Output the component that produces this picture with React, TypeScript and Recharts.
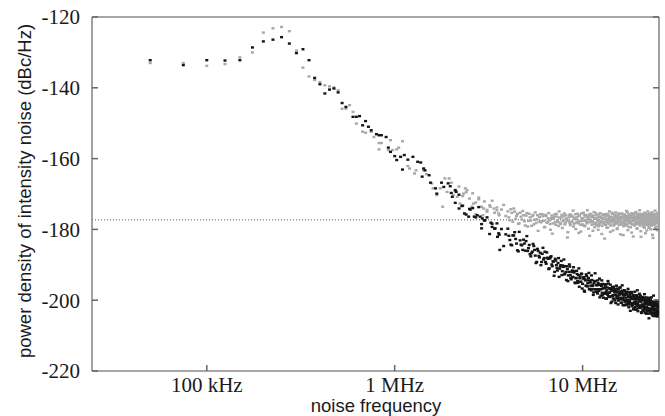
import React from 'react';
import { ScatterChart, Scatter, XAxis, YAxis, ReferenceLine } from 'recharts';

// low range, 25 kHz grid (kHz)
const lowKHz = [50, 75, 100, 125, 150, 175, 200, 225, 250, 275, 300, 325, 350, 375, 400, 425, 450, 475, 500];
const lowBlack = [-132.2, -133.6, -132.2, -132.3, -132.2, -128.6, -126.9, -126.4, -125.7, -127.5, -130.2, -129.1, -132.2, -137.2, -139.0, -141.6, -140.5, -140.2, -141.3];
const lowGray = [-133.0, -133.0, -133.8, -133.3, -131.4, -130.0, -124.4, -123.2, -122.8, -124.0, -129.5, -134.3, -136.8, -137.8, -138.4, -139.3, -139.6, -139.9, -140.7];

// 0.5 - 3.6 MHz, [kHz, dB]
const midBlack: [number, number][] = [
  [525, -144.3], [550, -145.4], [600, -148.2], [625, -148.2], [650, -148.0], [675, -150.6], [700, -149.4],
  [725, -151.0], [750, -152.0], [800, -153.1], [825, -153.4], [850, -153.4], [900, -153.9], [925, -156.9],
  [950, -158.1], [1000, -159.3], [1025, -160.4], [1075, -159.5], [1100, -163.1], [1125, -159.0], [1175, -160.3],
  [1250, -159.5], [1325, -160.9], [1375, -161.1], [1400, -165.1], [1425, -162.8], [1450, -163.3], [1525, -164.7],
  [1550, -166.8], [1650, -168.4], [1675, -169.9], [1775, -166.8], [1825, -168.0], [1925, -167.0], [1975, -167.8],
  [2025, -170.8], [2100, -168.9], [2125, -169.4], [2200, -174.1], [2275, -173.4], [2350, -175.5], [2475, -176.4],
  [2525, -174.4], [2650, -176.4], [2750, -176.0], [2850, -176.4], [2900, -179.7], [2925, -176.9], [3025, -177.4],
  [3250, -178.1], [3300, -179.3], [3425, -179.7], [3525, -182.1], [3575, -181.1], [3625, -185.8],
];
const midGray: [number, number][] = [
  [525, -145.9], [550, -145.9], [575, -144.9], [600, -146.8], [625, -150.1], [675, -152.4], [700, -152.7],
  [750, -152.4], [775, -153.9], [825, -155.6], [825, -157.4], [850, -155.6], [925, -157.6], [950, -154.8],
  [975, -157.6], [1025, -157.4], [1050, -156.9], [1100, -155.1], [1175, -162.1], [1200, -162.8], [1275, -164.2],
  [1300, -163.3], [1425, -163.3], [1475, -164.4], [1575, -167.0], [1600, -168.4], [1675, -170.3], [1750, -168.4],
  [1800, -173.6], [1850, -165.6], [1900, -169.4], [1950, -165.6], [2050, -170.3], [2150, -170.8], [2225, -172.7],
  [2325, -169.9], [2375, -168.4], [2425, -168.9], [2575, -173.6], [2625, -172.7], [2700, -175.7], [2800, -171.5],
  [2950, -176.0], [2975, -174.1], [3100, -175.0], [3225, -173.6], [3375, -174.1], [3500, -174.6], [3575, -175.5],
];

// 2 - 25.4 MHz (MHz)
const highMHz = [
  2.0, 2.1, 2.2, 2.3, 2.4, 2.5, 2.6, 2.7, 2.8, 2.9, 3.0, 3.1, 3.2, 3.3, 3.4, 3.5, 3.6, 3.7, 3.8, 3.9,
  4.0, 4.1, 4.2, 4.3, 4.4, 4.5, 4.6, 4.7, 4.8, 4.9, 5.0, 5.1, 5.2, 5.3, 5.4, 5.5, 5.6, 5.7, 5.8, 5.9,
  6.0, 6.1, 6.2, 6.3, 6.4, 6.5, 6.6, 6.7, 6.8, 6.9, 7.0, 7.1, 7.2, 7.3, 7.4, 7.5, 7.6, 7.7, 7.8, 7.9,
  8.0, 8.1, 8.2, 8.3, 8.4, 8.5, 8.6, 8.7, 8.8, 8.9, 9.0, 9.1, 9.2, 9.3, 9.4, 9.5, 9.6, 9.7, 9.8, 9.9,
  10.0, 10.1, 10.2, 10.3, 10.4, 10.5, 10.6, 10.7, 10.8, 10.9, 11.0, 11.1, 11.2, 11.3, 11.4, 11.5, 11.6, 11.7, 11.8, 11.9,
  12.0, 12.1, 12.2, 12.3, 12.4, 12.5, 12.6, 12.7, 12.8, 12.9, 13.0, 13.1, 13.2, 13.3, 13.4, 13.5, 13.6, 13.7, 13.8, 13.9,
  14.0, 14.1, 14.2, 14.3, 14.4, 14.5, 14.6, 14.7, 14.8, 14.9, 15.0, 15.1, 15.2, 15.3, 15.4, 15.5, 15.6, 15.7, 15.8, 15.9,
  16.0, 16.1, 16.2, 16.3, 16.4, 16.5, 16.6, 16.7, 16.8, 16.9, 17.0, 17.1, 17.2, 17.3, 17.4, 17.5, 17.6, 17.7, 17.8, 17.9,
  18.0, 18.1, 18.2, 18.3, 18.4, 18.5, 18.6, 18.7, 18.8, 18.9, 19.0, 19.1, 19.2, 19.3, 19.4, 19.5, 19.6, 19.7, 19.8, 19.9,
  20.0, 20.1, 20.2, 20.3, 20.4, 20.5, 20.6, 20.7, 20.8, 20.9, 21.0, 21.1, 21.2, 21.3, 21.4, 21.5, 21.6, 21.7, 21.8, 21.9,
  22.0, 22.1, 22.2, 22.3, 22.4, 22.5, 22.6, 22.7, 22.8, 22.9, 23.0, 23.1, 23.2, 23.3, 23.4, 23.5, 23.6, 23.7, 23.8, 23.9,
  24.0, 24.1, 24.2, 24.3, 24.4, 24.5, 24.6, 24.7, 24.8, 24.9, 25.0, 25.1, 25.2, 25.3, 25.4,
];
const highBlack = [
  -169.7, -172.5, -170.2, -173.3, -175.8, -174.2, -174.0, -176.6, -173.7, -178.5, -177.5, -176.6, -181.3, -178.4, -179.8, -178.3, -181.5, -179.9, -184.7, -181.4,
  -179.8, -183.0, -184.5, -181.7, -182.7, -185.9, -180.7, -184.3, -185.8, -184.0, -183.3, -186.1, -184.4, -187.6, -186.3, -184.7, -187.4, -189.2, -186.1, -187.9,
  -190.1, -186.9, -188.5, -186.3, -189.7, -188.0, -191.2, -188.2, -187.6, -190.4, -189.1, -192.0, -188.8, -190.9, -189.5, -193.4, -190.5, -188.9, -191.8, -190.6,
  -192.7, -190.4, -194.3, -191.2, -193.0, -189.9, -192.9, -194.1, -191.6, -193.5, -192.2, -195.0, -193.8, -191.7, -194.6, -192.9, -196.2, -193.3, -194.8, -192.6,
  -195.4, -193.6, -197.3, -194.1, -195.9, -193.2, -196.1, -194.4, -192.3, -196.8, -195.0, -197.2, -194.3, -196.0, -198.5, -195.1, -196.9, -194.6, -197.6, -195.8,
  -198.1, -195.2, -197.4, -193.9, -196.9, -198.7, -196.0, -197.9, -195.4, -199.3, -196.6, -198.2, -195.9, -197.7, -199.6, -196.4, -198.5, -195.3, -197.9, -199.1,
  -196.8, -198.9, -197.2, -200.4, -196.3, -198.6, -197.1, -199.7, -196.9, -198.4, -200.8, -197.5, -199.2, -196.7, -198.9, -200.1, -197.8, -199.6, -196.4, -198.3,
  -200.7, -197.9, -199.8, -197.3, -201.4, -198.6, -199.9, -197.2, -200.3, -198.4, -201.2, -198.0, -199.9, -197.6, -200.8, -199.1, -202.0, -198.7, -200.5, -198.2,
  -201.1, -199.4, -197.9, -201.7, -199.6, -200.9, -198.5, -202.3, -199.7, -201.0, -198.8, -200.6, -202.7, -199.3, -201.5, -198.9, -200.9, -203.1, -199.8, -201.6,
  -199.2, -202.2, -200.1, -198.7, -201.9, -200.4, -203.4, -199.6, -201.3, -202.8, -200.0, -201.8, -199.4, -202.5, -200.7, -203.6, -200.2, -202.0, -199.8, -201.9,
  -203.2, -200.5, -202.6, -200.1, -203.8, -201.2, -199.9, -202.9, -200.8, -203.3, -201.0, -202.4, -200.3, -203.7, -201.5, -202.8, -200.6, -204.4, -201.3, -202.9,
  -200.9, -203.5, -201.7, -204.2, -200.8, -202.6, -203.9, -201.4, -203.0, -201.1, -204.6, -202.2, -203.4, -201.6, -204.0,
];
const highGray = [
  -166.8, -169.2, -167.9, -170.6, -169.5, -171.3, -169.8, -172.4, -171.0, -173.6, -172.1, -174.5, -173.2, -171.9, -175.3, -173.8, -176.0, -174.4, -173.1, -176.2,
  -174.9, -177.4, -175.3, -174.1, -177.0, -175.6, -178.3, -176.4, -174.8, -177.7, -176.1, -179.2, -175.6, -177.5, -176.3, -178.6, -175.2, -177.1, -180.4, -176.5,
  -178.0, -175.7, -177.6, -179.3, -176.2, -177.9, -175.4, -178.5, -176.8, -181.2, -177.0, -175.8, -178.7, -176.4, -177.9, -174.9, -178.2, -176.6, -179.6, -177.3,
  -175.5, -178.1, -176.9, -182.3, -177.6, -175.9, -178.8, -176.3, -177.8, -174.7, -178.4, -176.7, -179.9, -177.2, -175.6, -178.3, -176.1, -177.7, -180.6, -176.9,
  -178.6, -175.3, -177.5, -179.1, -176.4, -178.0, -174.6, -177.9, -176.2, -181.8, -177.4, -175.8, -178.7, -176.6, -177.9, -175.1, -179.4, -176.9, -178.2, -176.0,
  -177.6, -180.1, -176.5, -178.5, -175.4, -177.8, -176.7, -179.0, -175.9, -178.3, -177.1, -182.6, -176.4, -178.0, -175.7, -177.7, -179.5, -176.2, -178.4, -174.9,
  -177.3, -178.9, -176.6, -177.9, -175.6, -180.3, -177.0, -178.6, -176.3, -177.8, -175.2, -178.2, -176.8, -179.7, -177.4, -175.9, -178.8, -176.5, -177.6, -181.4,
  -176.7, -178.3, -175.5, -177.9, -176.4, -179.1, -177.2, -175.8, -178.5, -176.9, -177.7, -174.8, -178.9, -176.3, -180.2, -177.5, -175.9, -178.1, -176.6, -177.8,
  -179.4, -176.1, -178.4, -175.4, -177.6, -176.8, -182.0, -177.3, -175.7, -178.7, -176.5, -177.9, -175.1, -178.6, -176.9, -179.8, -177.1, -175.6, -178.2, -176.4,
  -177.7, -174.6, -178.9, -176.7, -180.5, -177.4, -175.8, -178.3, -176.2, -177.9, -179.2, -176.0, -178.5, -175.3, -177.6, -176.8, -181.1, -177.2, -175.7, -178.8,
  -176.6, -177.8, -174.9, -178.4, -176.3, -179.6, -177.0, -175.5, -178.1, -176.7, -177.5, -180.0, -176.1, -178.6, -175.2, -177.7, -176.9, -182.4, -177.3, -175.9,
  -178.7, -176.4, -177.9, -174.7, -178.2, -176.8, -179.3, -177.1, -175.6, -178.0, -176.5, -177.8, -175.3, -179.0, -176.6,
];

// interleaved readings, 4.05 - 25.35 MHz
const highMHzB = [
  4.05, 4.15, 4.25, 4.35, 4.45, 4.55, 4.65, 4.75, 4.85, 4.95, 5.05, 5.15, 5.25, 5.35, 5.45, 5.55, 5.65, 5.75, 5.85, 5.95,
  6.05, 6.15, 6.25, 6.35, 6.45, 6.55, 6.65, 6.75, 6.85, 6.95, 7.05, 7.15, 7.25, 7.35, 7.45, 7.55, 7.65, 7.75, 7.85, 7.95,
  8.05, 8.15, 8.25, 8.35, 8.45, 8.55, 8.65, 8.75, 8.85, 8.95, 9.05, 9.15, 9.25, 9.35, 9.45, 9.55, 9.65, 9.75, 9.85, 9.95,
  10.05, 10.15, 10.25, 10.35, 10.45, 10.55, 10.65, 10.75, 10.85, 10.95, 11.05, 11.15, 11.25, 11.35, 11.45, 11.55, 11.65, 11.75, 11.85, 11.95,
  12.05, 12.15, 12.25, 12.35, 12.45, 12.55, 12.65, 12.75, 12.85, 12.95, 13.05, 13.15, 13.25, 13.35, 13.45, 13.55, 13.65, 13.75, 13.85, 13.95,
  14.05, 14.15, 14.25, 14.35, 14.45, 14.55, 14.65, 14.75, 14.85, 14.95, 15.05, 15.15, 15.25, 15.35, 15.45, 15.55, 15.65, 15.75, 15.85, 15.95,
  16.05, 16.15, 16.25, 16.35, 16.45, 16.55, 16.65, 16.75, 16.85, 16.95, 17.05, 17.15, 17.25, 17.35, 17.45, 17.55, 17.65, 17.75, 17.85, 17.95,
  18.05, 18.15, 18.25, 18.35, 18.45, 18.55, 18.65, 18.75, 18.85, 18.95, 19.05, 19.15, 19.25, 19.35, 19.45, 19.55, 19.65, 19.75, 19.85, 19.95,
  20.05, 20.15, 20.25, 20.35, 20.45, 20.55, 20.65, 20.75, 20.85, 20.95, 21.05, 21.15, 21.25, 21.35, 21.45, 21.55, 21.65, 21.75, 21.85, 21.95,
  22.05, 22.15, 22.25, 22.35, 22.45, 22.55, 22.65, 22.75, 22.85, 22.95, 23.05, 23.15, 23.25, 23.35, 23.45, 23.55, 23.65, 23.75, 23.85, 23.95,
  24.05, 24.15, 24.25, 24.35, 24.45, 24.55, 24.65, 24.75, 24.85, 24.95, 25.05, 25.15, 25.25, 25.35,
];
const highBlackB = [
  -181.8, -184.3, -181.7, -180.8, -184.0, -186.2, -183.1, -184.5, -182.9, -186.0, -181.9, -185.3, -187.0, -186.7, -184.1, -185.8, -189.5, -185.5, -187.5, -186.6,
  -189.2, -185.2, -188.1, -189.2, -186.5, -188.3, -191.0, -187.8, -189.9, -189.0, -193.1, -188.3, -190.1, -191.6, -188.1, -191.1, -190.1, -192.9, -190.2, -188.5,
  -192.5, -192.0, -190.4, -194.6, -192.0, -190.5, -193.7, -192.0, -193.4, -190.7, -191.8, -195.2, -193.7, -192.6, -195.1, -191.0, -193.8, -194.8, -192.5, -196.7,
  -193.9, -193.5, -197.6, -194.4, -192.7, -196.0, -195.2, -193.7, -196.9, -194.5, -195.9, -193.0, -196.9, -195.7, -197.8, -194.6, -192.4, -196.9, -195.7, -197.6,
  -194.4, -196.9, -195.7, -199.2, -195.5, -196.9, -194.4, -198.6, -196.7, -195.5, -198.0, -196.5, -199.5, -195.5, -197.2, -198.0, -194.6, -199.0, -196.6, -197.8,
  -195.6, -200.8, -197.3, -196.5, -198.8, -199.5, -196.2, -197.7, -200.1, -197.2, -198.6, -195.9, -199.5, -197.8, -201.2, -197.0, -198.5, -199.7, -196.4, -199.3,
  -197.5, -200.7, -195.8, -199.4, -198.1, -201.4, -198.7, -197.5, -200.4, -199.3, -201.4, -198.4, -197.9, -200.2, -196.8, -201.2, -199.0, -199.9, -197.7, -203.0,
  -199.0, -200.8, -197.7, -199.7, -201.3, -198.8, -202.6, -199.2, -200.6, -197.6, -201.9, -199.8, -200.4, -198.6, -202.4, -197.2, -201.1, -199.4, -201.7, -200.4,
  -198.2, -201.5, -202.1, -200.1, -199.4, -203.6, -199.9, -201.2, -199.1, -202.0, -201.5, -199.4, -203.0, -198.3, -201.2, -202.4, -200.7, -199.2, -203.8, -201.0,
  -199.9, -203.0, -201.2, -202.2, -199.3, -205.1, -200.5, -201.2, -202.5, -199.8, -202.9, -200.9, -199.2, -204.0, -201.8, -200.6, -203.6, -202.3, -198.7, -202.8,
  -201.4, -204.5, -200.6, -202.4, -201.2, -203.6, -200.1, -204.3, -201.6, -201.1, -202.9, -200.4, -203.6, -201.6,
];
const highGrayB = [
  -176.6, -174.3, -177.8, -175.0, -176.2, -178.4, -175.3, -177.2, -176.0, -178.9, -175.4, -177.6, -176.6, -179.0, -175.9, -177.3, -178.2, -176.0, -177.8, -175.7,
  -177.7, -176.3, -179.4, -175.9, -178.1, -176.9, -177.5, -180.1, -176.1, -178.3, -176.5, -178.0, -175.6, -177.4, -179.0, -176.7, -178.5, -175.9, -177.7, -176.3,
  -178.6, -176.0, -177.5, -180.8, -176.6, -178.2, -175.8, -177.9, -176.4, -179.2, -177.0, -175.7, -178.1, -176.5, -177.9, -181.0, -176.2, -178.7, -175.5, -177.6,
  -176.8, -178.9, -176.0, -177.4, -175.9, -178.3, -176.7, -179.8, -177.1, -175.6, -178.0, -176.4, -177.7, -180.4, -176.1, -178.5, -177.0, -175.4, -178.8, -176.8,
  -177.3, -179.1, -175.8, -178.0, -176.5, -177.6, -181.3, -176.9, -178.2, -175.7, -177.9, -176.2, -178.7, -176.0, -179.5, -177.1, -175.6, -178.3, -176.8, -177.5,
  -180.7, -176.4, -178.0, -175.3, -177.6, -176.9, -178.9, -177.2, -175.8, -178.4, -176.6, -177.8, -179.9, -176.1, -178.1, -175.5, -177.4, -176.8, -178.6, -177.0,
  -175.6, -178.5, -176.4, -177.9, -181.6, -176.7, -178.2, -175.9, -177.5, -176.3, -178.8, -176.9, -177.6, -175.2, -178.3, -176.5, -179.3, -177.1, -175.8, -178.0,
  -176.4, -177.7, -180.9, -176.8, -178.6, -175.7, -177.4, -176.2, -178.9, -177.0, -175.4, -178.2, -176.6, -177.8, -179.7, -176.3, -178.0, -175.9, -177.6, -176.9,
  -178.5, -176.1, -177.9, -175.6, -182.1, -177.2, -178.4, -176.5, -177.7, -175.8, -177.0, -178.7, -176.3, -179.5, -177.5, -175.5, -178.1, -176.7, -177.8, -180.3,
  -176.2, -177.9, -175.7, -178.6, -176.8, -177.4, -179.2, -176.0, -178.3, -175.9, -177.6, -176.5, -178.9, -175.4, -177.9, -181.5, -176.7, -178.1, -176.2, -177.7,
  -175.8, -178.4, -176.9, -179.6, -177.2, -175.6, -178.0, -176.4, -177.8, -180.2, -176.6, -178.3, -175.9, -177.5,
];

const noiseFloor = -177.3;
const xTicks = [1e5, 1e6, 1e7];
const xTickLabels = ['100 kHz', '1 MHz', '10 MHz'];
const yTicks = [-220, -200, -180, -160, -140, -120];

const pair = (f: number[], v: number[], unit: number) => f.map((x, i) => ({ hz: x * unit, db: v[i] }));

const blackPts = [
  ...pair(lowKHz, lowBlack, 1e3),
  ...midBlack.map(([k, d]) => ({ hz: k * 1e3, db: d })),
  ...pair(highMHz, highBlack, 1e6),
  ...pair(highMHzB, highBlackB, 1e6),
];
const grayPts = [
  ...pair(lowKHz, lowGray, 1e3),
  ...midGray.map(([k, d]) => ({ hz: k * 1e3, db: d })),
  ...pair(highMHz, highGray, 1e6),
  ...pair(highMHzB, highGrayB, 1e6),
];

const frame = { stroke: '#8a8a8a', strokeWidth: 1.6 };
const tickColor = '#666';
const serif = '"Liberation Serif", "DejaVu Serif", serif';
const sans = '"Liberation Sans", Arial, sans-serif';

const BottomTick = (p: any) => {
  const i = xTicks.indexOf(p.payload.value);
  return (
    <g>
      <line x1={p.x} x2={p.x} y1={p.y} y2={p.y - 6} stroke={tickColor} strokeWidth={1.5} />
      <text x={p.x} y={p.y + 21} textAnchor="middle" fontFamily={serif} fontSize={21} fill="#1a1a1a">
        {xTickLabels[i]}
      </text>
    </g>
  );
};
const TopTick = (p: any) => (
  <line x1={p.x} x2={p.x} y1={p.y} y2={p.y + 6} stroke={tickColor} strokeWidth={1.5} />
);
const LeftTick = (p: any) => (
  <g>
    <line x1={p.x} x2={p.x + 6} y1={p.y} y2={p.y} stroke={tickColor} strokeWidth={1.5} />
    <text x={p.x - 12} y={p.y} dy="0.35em" textAnchor="end" fontFamily={serif} fontSize={21} fill="#1a1a1a">
      {p.payload.value}
    </text>
  </g>
);
const RightTick = (p: any) => (
  <line x1={p.x} x2={p.x - 6} y1={p.y} y2={p.y} stroke={tickColor} strokeWidth={1.5} />
);

const mark = (fill: string) => (p: any) =>
  <rect x={p.cx - 1.5} y={p.cy - 1.2} width={3} height={2.4} fill={fill} />;

export default function App() {
  const xDomain: [number, number] = [24500, 25.5e6];
  return (
    <div style={{ position: 'absolute', left: 0, top: 0, width: 665, height: 416, background: '#fff' }}>
      <ScatterChart width={665} height={416} margin={{ top: 0, right: 0, bottom: 0, left: 0 }}>
        <XAxis xAxisId="b" dataKey="hz" type="number" scale="log" domain={xDomain} allowDataOverflow
          ticks={xTicks} interval={0} height={45} tickSize={0} tickMargin={0} tickLine={false}
          axisLine={frame} tick={<BottomTick />} />
        <XAxis xAxisId="t" orientation="top" type="number" scale="log" domain={xDomain} allowDataOverflow
          ticks={xTicks} interval={0} height={17} tickSize={0} tickMargin={0} tickLine={false}
          axisLine={frame} tick={<TopTick />} />
        <YAxis yAxisId="l" dataKey="db" type="number" domain={[-220, -120]} allowDataOverflow
          ticks={yTicks} interval={0} width={92} tickSize={0} tickMargin={0} tickLine={false}
          axisLine={frame} tick={<LeftTick />} />
        <YAxis yAxisId="r" orientation="right" type="number" domain={[-220, -120]} allowDataOverflow
          ticks={yTicks} interval={0} width={6} tickSize={0} tickMargin={0} tickLine={false}
          axisLine={frame} tick={<RightTick />} />
        <ReferenceLine xAxisId="b" yAxisId="l" y={noiseFloor} stroke="#555" strokeDasharray="1 2" strokeWidth={1} />
        <Scatter xAxisId="b" yAxisId="l" data={grayPts} dataKey="db" fill="#a8a8a8" shape={mark('#a8a8a8')} isAnimationActive={false} />
        <Scatter xAxisId="b" yAxisId="l" data={blackPts} dataKey="db" fill="#151515" shape={mark('#151515')} isAnimationActive={false} />
      </ScatterChart>
      <div style={{
        position: 'absolute', left: 25, top: 191, transform: 'translate(-50%, -50%) rotate(-90deg)',
        whiteSpace: 'nowrap', fontFamily: sans, fontSize: 18.5, lineHeight: 1, color: '#1a1a1a',
      }}>
        power density of intensity noise (dBc/Hz)
      </div>
      <div style={{
        position: 'absolute', left: 376, top: 406, transform: 'translate(-50%, -50%)',
        whiteSpace: 'nowrap', fontFamily: sans, fontSize: 18.5, lineHeight: 1, color: '#1a1a1a',
      }}>
        noise frequency
      </div>
    </div>
  );
}
